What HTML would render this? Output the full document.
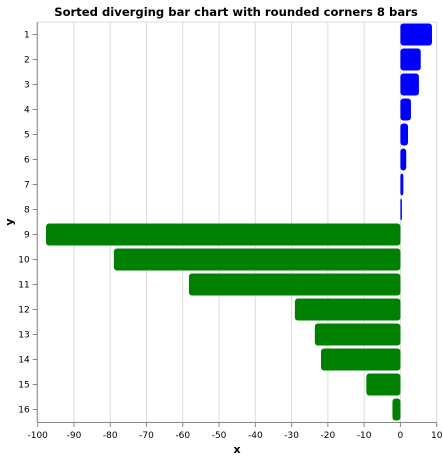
<!DOCTYPE html>
<html><head><meta charset="utf-8"><style>
body{margin:0;background:#fff;font-family:"Liberation Sans","DejaVu Sans",sans-serif}
svg text{font-family:"DejaVu Sans","Liberation Sans",sans-serif}
</style></head><body>
<svg id="chart" width="443" height="459" xmlns="http://www.w3.org/2000/svg">
<text x="236" y="16" text-anchor="middle" font-size="11.6" font-weight="bold" fill="#000">Sorted diverging bar chart with rounded corners 8 bars</text>
<g id="grid"></g><g id="bars"></g><g id="axes"></g>
<text x="237" y="453" text-anchor="middle" font-size="11" font-weight="bold">x</text>
<text transform="translate(13,222) rotate(-90)" text-anchor="middle" font-size="11" font-weight="bold">y</text>
</svg>
<script>
const categories=["1","2","3","4","5","6","7","8","9","10","11","12","13","14","15","16"];
const values=[8.7,5.6,5.1,2.9,2.1,1.6,0.8,0.4,-97.7,-79,-58.3,-29.1,-23.6,-21.9,-9.4,-2.2];
const xTicks=[-100,-90,-80,-70,-60,-50,-40,-30,-20,-10,0,10];
const NS="http://www.w3.org/2000/svg";
const L=37.7,R=436.7,T=22,B=422,xmin=-100,xmax=10;
const x=v=>L+(v-xmin)/(xmax-xmin)*(R-L);
const band=(B-T)/categories.length;
const y=i=>T+i*band;
function mk(tag,a,p){const e=document.createElementNS(NS,tag);for(const k in a)e.setAttribute(k,a[k]);p.appendChild(e);return e;}
const grid=document.getElementById('grid'),bars=document.getElementById('bars'),axes=document.getElementById('axes');
xTicks.forEach(t=>{
 const g=mk('line',{x1:x(t),x2:x(t),y1:T,y2:B,stroke:'#ddd','stroke-width':1},grid);
 
 
 const tk=mk('line',{x1:x(t),x2:x(t),y1:B,y2:B+5,stroke:'#888'},axes);
 
 
 const lb=mk('text',{x:x(t),y:B+16,'text-anchor':'middle','font-size':'9',fill:'#000'},axes);
 lb.textContent=t;
 
 
});
mk('line',{x1:R,x2:R,y1:T,y2:B,stroke:'#ddd'},grid);
mk('line',{x1:L,x2:R,y1:T,y2:T,stroke:'#ddd'},grid);
values.forEach((v,i)=>{
 const x0=Math.min(x(0),x(v)),w=Math.abs(x(v)-x(0));
 const r=mk('rect',{x:x0,y:y(i)+1.5,width:Math.max(w,1),height:band-3,rx:3,ry:3,fill:v>=0?'#0000ff':'#008000'},bars);
 
 
 const tk=mk('line',{x1:L-5,x2:L,y1:y(i)+band/2,y2:y(i)+band/2,stroke:'#888'},axes);
 
 
 const lb=mk('text',{x:L-8,y:y(i)+band/2+3,'text-anchor':'end','font-size':'9',fill:'#000'},axes);
 lb.textContent=categories[i];
 
 
});
const xa=mk('line',{x1:L,x2:R,y1:B+0.5,y2:B+0.5,stroke:'#888'},axes);


const ya=mk('line',{x1:L-0.5,x2:L-0.5,y1:T,y2:B,stroke:'#888'},axes);


</script>
</body></html>
